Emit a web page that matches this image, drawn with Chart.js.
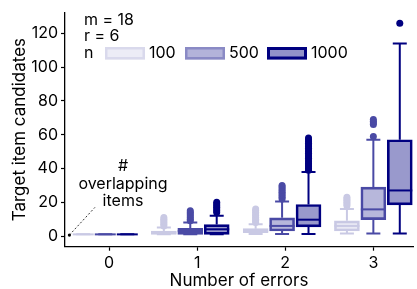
<!DOCTYPE html>
<html>
<head>
<meta charset="utf-8">
<script src="https://cdn.jsdelivr.net/npm/chart.js@4.4.0/dist/chart.umd.min.js"></script>
<style>
  html, body { margin: 0; padding: 0; background: #fff; overflow: hidden; }
  #wrap { width: 417px; height: 289px; }
</style>
</head>
<body>
<div id="wrap"><canvas id="boxChart" width="417" height="289"></canvas></div>
<script>
var errors = [0, 1, 2, 3];
var sizeLabels = ['100', '500', '1000'];
var yTicks = [0, 20, 40, 60, 80, 100, 120];

// [lower whisker, q1, median, q3, upper whisker] for 0..3 errors
var box100 = [[1, 1, 1, 1, 1], [1, 1, 2, 3, 5], [1.2, 2, 3, 4.4, 7], [1.5, 3, 6, 9, 16]];
var box500 = [[1, 1, 1, 1, 1], [1, 1, 3, 4.6, 8], [1.2, 3, 6, 10.8, 20.5], [1.5, 9.7, 15.8, 29, 57]];
var box1000 = [[1, 1, 1, 1, 1], [1, 1, 4, 6.8, 12], [1.2, 5.4, 9.7, 18.7, 38], [1.5, 18.5, 27, 57, 114]];

var out100 = [[], [6, 7, 8, 9, 10, 11], [8, 9, 10, 11, 12, 13, 14, 15, 16], [18, 19, 20, 21, 22, 23]];
var out500 = [[], [9, 10, 11, 12, 13, 14, 15], [22, 23, 24, 25, 26, 27, 28, 29, 30], [59, 66, 67, 68, 69]];
var out1000 = [[], [14, 15, 16, 17, 18, 19, 20],
    [39, 40, 41, 42, 43, 44, 45, 46, 47, 48, 49, 50, 51, 52, 53, 54, 55, 56, 57, 58], [126]];

var colors = ['#c9c9e4', '#4a4aa5', '#000080'];
var fills = ['rgba(201, 201, 228, 0.4)', 'rgba(74, 74, 165, 0.4)', 'rgba(0, 0, 128, 0.4)'];

// dodge layout per error group (in axis units)
var dodge = [0.25, 0.3, 0.3, 0.3];
var shift = [-0.043, -0.078, -0.036, 0];
var boxScale = [0.84, 1, 1, 1];

var boxes = [box100, box500, box1000];
var outs = [out100, out500, out1000];

function xPos(k, i) {
    return errors[i] + shift[i] + (k - 1) * dodge[i];
}

var datasets = [];
boxes.forEach(function (b, k) {
    datasets.push({
        type: 'bar',
        label: sizeLabels[k],
        data: errors.map(function (e, i) { return { x: xPos(k, i), y: [b[i][1], b[i][3]] }; }),
        backgroundColor: fills[k],
        borderColor: colors[k],
        borderWidth: 2,
        borderSkipped: false,
        grouped: false,
        barThickness: 25,
        order: 2
    });
});
outs.forEach(function (o, k) {
    var pts = [];
    o.forEach(function (list, i) {
        list.forEach(function (v) { pts.push({ x: xPos(k, i), y: v }); });
    });
    datasets.push({
        type: 'scatter',
        label: sizeLabels[k] + ' outliers',
        data: pts,
        backgroundColor: colors[k],
        borderWidth: 0,
        pointRadius: 3.5,
        order: 1
    });
});

var boxParts = {
    id: 'boxParts',
    beforeDatasetsDraw: function (chart) {
        var ctx = chart.ctx, ys = chart.scales.y;
        ctx.save();
        ctx.lineWidth = 2;
        boxes.forEach(function (b, k) {
            var meta = chart.getDatasetMeta(k);
            ctx.strokeStyle = colors[k];
            meta.data.forEach(function (bar, i) {
                var s = b[i];
                var x = bar.x;
                ctx.beginPath();
                ctx.moveTo(x, ys.getPixelForValue(s[0]));
                ctx.lineTo(x, ys.getPixelForValue(s[1]));
                ctx.moveTo(x, ys.getPixelForValue(s[3]));
                ctx.lineTo(x, ys.getPixelForValue(s[4]));
                [s[0], s[4]].forEach(function (v) {
                    var py = ys.getPixelForValue(v);
                    ctx.moveTo(x - 7, py);
                    ctx.lineTo(x + 7, py);
                });
                ctx.stroke();
            });
        });
        ctx.restore();
    },
    afterDatasetsDraw: function (chart) {
        var ctx = chart.ctx, ys = chart.scales.y, xs = chart.scales.x;
        ctx.save();
        ctx.lineWidth = 2;
        boxes.forEach(function (b, k) {
            var meta = chart.getDatasetMeta(k);
            ctx.strokeStyle = colors[k];
            meta.data.forEach(function (bar, i) {
                var half = bar.width / 2 * boxScale[i];
                var py = ys.getPixelForValue(b[i][2]);
                ctx.beginPath();
                ctx.moveTo(bar.x - half, py);
                ctx.lineTo(bar.x + half, py);
                ctx.stroke();
            });
        });

        // annotation: overlapping items
        ctx.fillStyle = '#000';
        ctx.font = '16px Inter';
        ctx.textAlign = 'center';
        ctx.textBaseline = 'middle';
        var ax = xs.getPixelForValue(0.158);
        ctx.fillText('#', ax, ys.getPixelForValue(41.2));
        ctx.fillText('overlapping', ax, ys.getPixelForValue(31));
        ctx.fillText('items', ax, ys.getPixelForValue(20.5));
        var p0x = xs.getPixelForValue(-0.45), p0y = ys.getPixelForValue(0.6);
        var p1x = xs.getPixelForValue(-0.16), p1y = ys.getPixelForValue(17);
        ctx.strokeStyle = '#000';
        ctx.lineWidth = 0.8;
        ctx.setLineDash([2, 2]);
        ctx.beginPath();
        ctx.moveTo(p0x, p0y);
        ctx.lineTo(p1x, p1y);
        ctx.stroke();
        ctx.setLineDash([]);
        ctx.beginPath();
        ctx.arc(p0x, p0y, 1.6, 0, Math.PI * 2);
        ctx.fill();

        // parameters and size key
        ctx.textAlign = 'left';
        ctx.fillText('m = 18', 84, 20);
        ctx.fillText('r = 6', 84, 36);
        ctx.fillText('n', 84, 53);
        var keys = [
            { x: 105, fill: '#ececf6', stroke: '#d9d9ec', w: 2.5 },
            { x: 185, fill: '#b3b3da', stroke: '#8a8ac5', w: 2.5 },
            { x: 267, fill: '#9292c9', stroke: '#000080', w: 3 }
        ];
        keys.forEach(function (kk, k) {
            ctx.fillStyle = kk.fill;
            ctx.fillRect(kk.x, 47, 40, 12.5);
            ctx.strokeStyle = kk.stroke;
            ctx.lineWidth = kk.w;
            ctx.strokeRect(kk.x + kk.w / 2, 47 + kk.w / 2, 40 - kk.w, 12.5 - kk.w);
            ctx.fillStyle = '#000';
            ctx.fillText(sizeLabels[k], kk.x + 44, 53);
        });
        ctx.restore();
    }
};

var axisFont = { family: 'Inter', size: 16 };
var titleFont = { family: 'Inter', size: 17, lineHeight: 1 };

new Chart(document.getElementById('boxChart'), {
    data: { datasets: datasets },
    options: {
        responsive: false,
        animation: false,
        events: [],
        layout: { padding: { top: 8, right: 2, left: 0, bottom: 0 } },
        plugins: {
            legend: { display: false },
            tooltip: { enabled: false }
        },
        scales: {
            x: {
                type: 'linear',
                offset: false,
                min: -0.5,
                max: 3.45,
                afterBuildTicks: function (scale) {
                    scale.ticks = errors.map(function (v) { return { value: v }; });
                },
                afterFit: function (scale) { scale.height = 42.3; },
                ticks: { color: '#000', font: axisFont, padding: 3, autoSkip: false, maxRotation: 0 },
                grid: { drawOnChartArea: false, color: '#000', tickLength: 4, tickWidth: 1.2, offset: false },
                border: { color: '#000', width: 1.3 },
                title: { display: true, text: 'Number of errors', color: '#000', font: titleFont, padding: 0 }
            },
            y: {
                type: 'linear',
                min: -6.3,
                max: 132.3,
                afterBuildTicks: function (scale) {
                    scale.ticks = yTicks.map(function (v) { return { value: v }; });
                },
                afterFit: function (scale) { scale.width = 65; },
                ticks: { color: '#000', font: axisFont, padding: 3 },
                grid: { drawOnChartArea: false, color: '#000', tickLength: 4, tickWidth: 1.2 },
                border: { color: '#000', width: 1.3 },
                title: { display: true, text: 'Target item candidates', color: '#000', font: titleFont, padding: { top: 11, bottom: 0 } }
            }
        }
    },
    plugins: [boxParts]
});
</script>
</body>
</html>
